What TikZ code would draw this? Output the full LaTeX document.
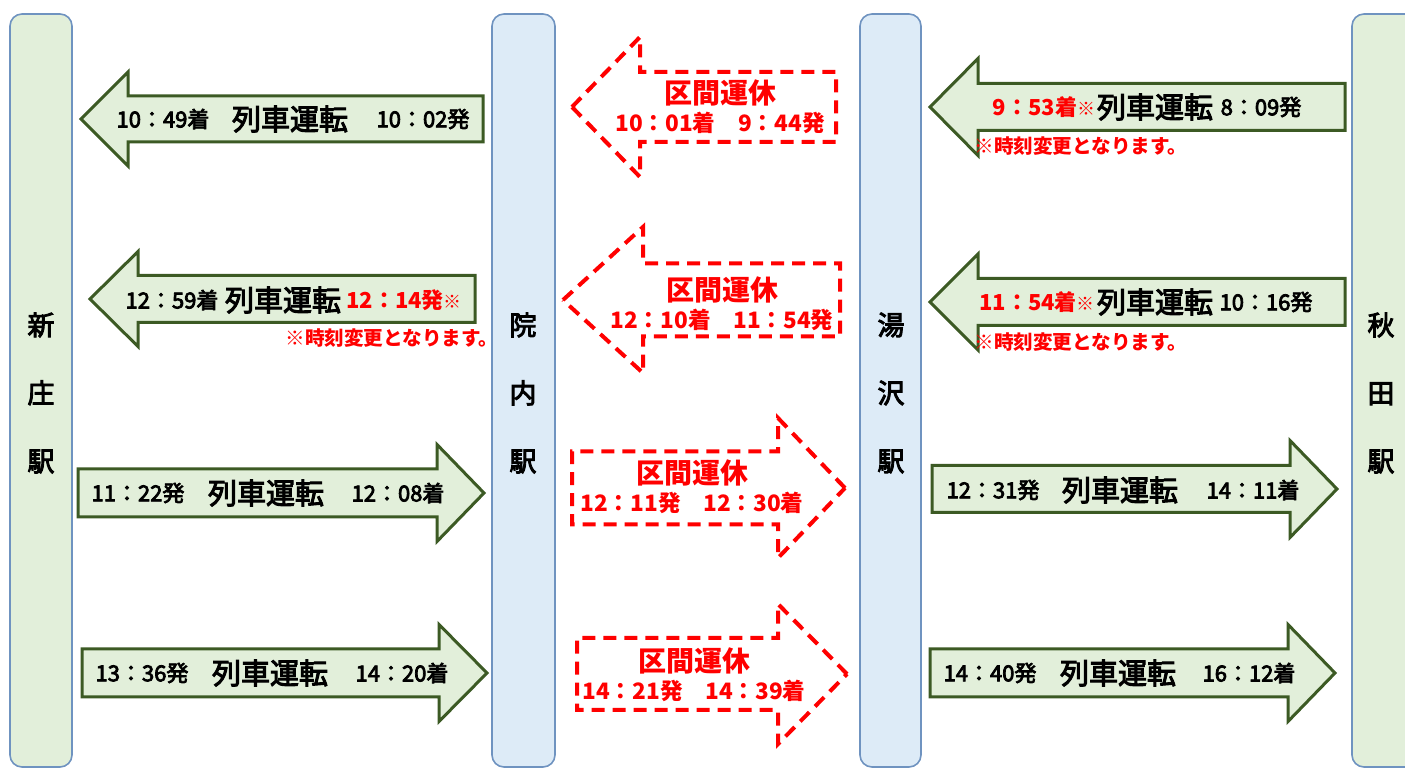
\documentclass[tikz,border=0pt]{standalone}
\usepackage{fontspec}
\setmainfont{Noto Sans CJK JP}
\newfontfamily\medfont[FakeBold=3.5]{Noto Sans CJK JP}
\usetikzlibrary{calc}
\usepackage{xcolor}

\definecolor{stgreen}{HTML}{E2EFDA}
\definecolor{stblue}{HTML}{DDEBF7}
\definecolor{stline}{HTML}{6F93C0}
\definecolor{arline}{HTML}{3C5A24}
\definecolor{cutred}{HTML}{FF0000}

% style, tip x, y, head base x, head half, shaft half, tail x
\newcommand{\trainarrow}[7]{%
 \draw[#1] (#2,#3) -- (#4,#3-#5) -- (#4,#3-#6) -- (#7,#3-#6) -- (#7,#3+#6) -- (#4,#3+#6) -- (#4,#3+#5) -- cycle;}
\newcommand{\kome}{{\mdseries\fontsize{9}{10}\selectfont ※}}

\begin{document}
\begin{tikzpicture}[x=0.5pt,y=-0.5pt,
 bar/.style={draw=stline, line width=0.8pt, rounded corners=6pt},
 runarrow/.style={draw=arline, fill=stgreen, line width=1.5pt, line join=miter},
 cutarrow/.style={draw=cutred, line width=2pt, dash pattern=on 6.5pt off 4pt},
 stname/.style={font=\medfont\fontsize{13.5}{34}\selectfont, align=center, inner sep=0pt},
 runs/.style={font=\medfont\fontsize{14.5}{16}\selectfont, inner sep=0pt},
 times/.style={font=\medfont\fontsize{11}{13}\selectfont, inner sep=0pt},
 redtimes/.style={font=\bfseries\fontsize{11}{13}\selectfont, inner sep=0pt, text=cutred},
 cut/.style={text=cutred, font=\bfseries\fontsize{14}{16}\selectfont, inner sep=0pt},
 cuttimes/.style={text=cutred, font=\bfseries\fontsize{11.3}{13}\selectfont, inner sep=0pt},
 note/.style={text=cutred, font=\bfseries\fontsize{9.8}{11}\selectfont, inner sep=0pt}]
\useasboundingbox (0,0) rectangle (1405,769);
\clip (0,0) rectangle (1405,769);

% stations
\foreach \xa/\xb/\col/\sname/\lab in {10/72/stgreen/shinjo/新\\庄\\駅, 492/555/stblue/innai/院\\内\\駅,
  860/921/stblue/yuzawa/湯\\沢\\駅, 1352/1440/stgreen/akita/秋\\田\\駅} {
 \draw[bar, fill=\col] (\xa,14) rectangle (\xb,767);
 \node[stname] (\sname) at ({min(\xa+31,1381)},393) {\lab};
}

% shinjo - innai
\trainarrow{runarrow}{81}{119}{128}{47}{23}{483}
\trainarrow{runarrow}{90}{299}{138}{47.5}{23.5}{475}
\trainarrow{runarrow}{484}{493}{437}{48.5}{24}{78}
\trainarrow{runarrow}{487}{673}{439}{48.5}{24}{82}
% innai - yuzawa
\trainarrow{cutarrow}{572}{107}{640}{70}{35}{836}
\trainarrow{cutarrow}{563}{300}{643}{73}{36.5}{840}
\trainarrow{cutarrow}{845}{488}{778}{70}{36.5}{572}
\trainarrow{cutarrow}{847}{674}{778}{70}{36}{577}
% yuzawa - akita
\trainarrow{runarrow}{930}{107}{978}{48.5}{23.5}{1345}
\trainarrow{runarrow}{930}{302}{978}{48}{23.5}{1345}
\trainarrow{runarrow}{1337}{489}{1290}{48.5}{23.5}{932}
\trainarrow{runarrow}{1335}{673}{1288}{48.5}{24}{930}

\foreach \n/\x/\y in {a/290/119, b/283/300, c/266/493, d/270/673,
  e/1155/107, f/1155/302, g/1120/490, h/1118/673}
 \node[runs] (run\n) at (\x,\y) {列車運転};

\node[times] (arra) at (163,119) {10：49着};
\node[times] (depa) at (423,119) {10：02発};
\node[times] (arrb) at (172,300) {12：59着};
\node[redtimes] (depb) at (404,300) {12：14発\kome};
\node[note] (noteb) at (392,338) {※時刻変更となります。};
\node[times] (depc) at (138,493) {11：22発};
\node[times] (arrc) at (398,493) {12：08着};
\node[times] (depd) at (142,673) {13：36発};
\node[times] (arrd) at (402,673) {14：20着};

\node[redtimes] (arre) at (1044,107) {9：53着\kome};
\node[times] (depe) at (1261,107) {8：09発};
\node[note] (notee) at (1081,146) {※時刻変更となります。};
\node[redtimes] (arrf) at (1037,302) {11：54着\kome};
\node[times] (depf) at (1266,302) {10：16発};
\node[note] (notef) at (1081,342) {※時刻変更となります。};
\node[times] (depg) at (993,490) {12：31発};
\node[times] (arrg) at (1253,490) {14：11着};
\node[times] (deph) at (990,673) {14：40発};
\node[times] (arrh) at (1249,673) {16：12着};

\foreach \n/\x/\y/\tt in {a/720/93/10：01着　9：44発, b/722/290/12：10着　11：54発,
  c/692/473/12：11発　12：30着, d/694/661/14：21発　14：39着} {
 \node[cut] (cut\n) at (\x,\y) {区間運休};
 \node[cuttimes] (cuttime\n) at (\x,\y+30) {\tt};
}
\end{tikzpicture}
\end{document}
